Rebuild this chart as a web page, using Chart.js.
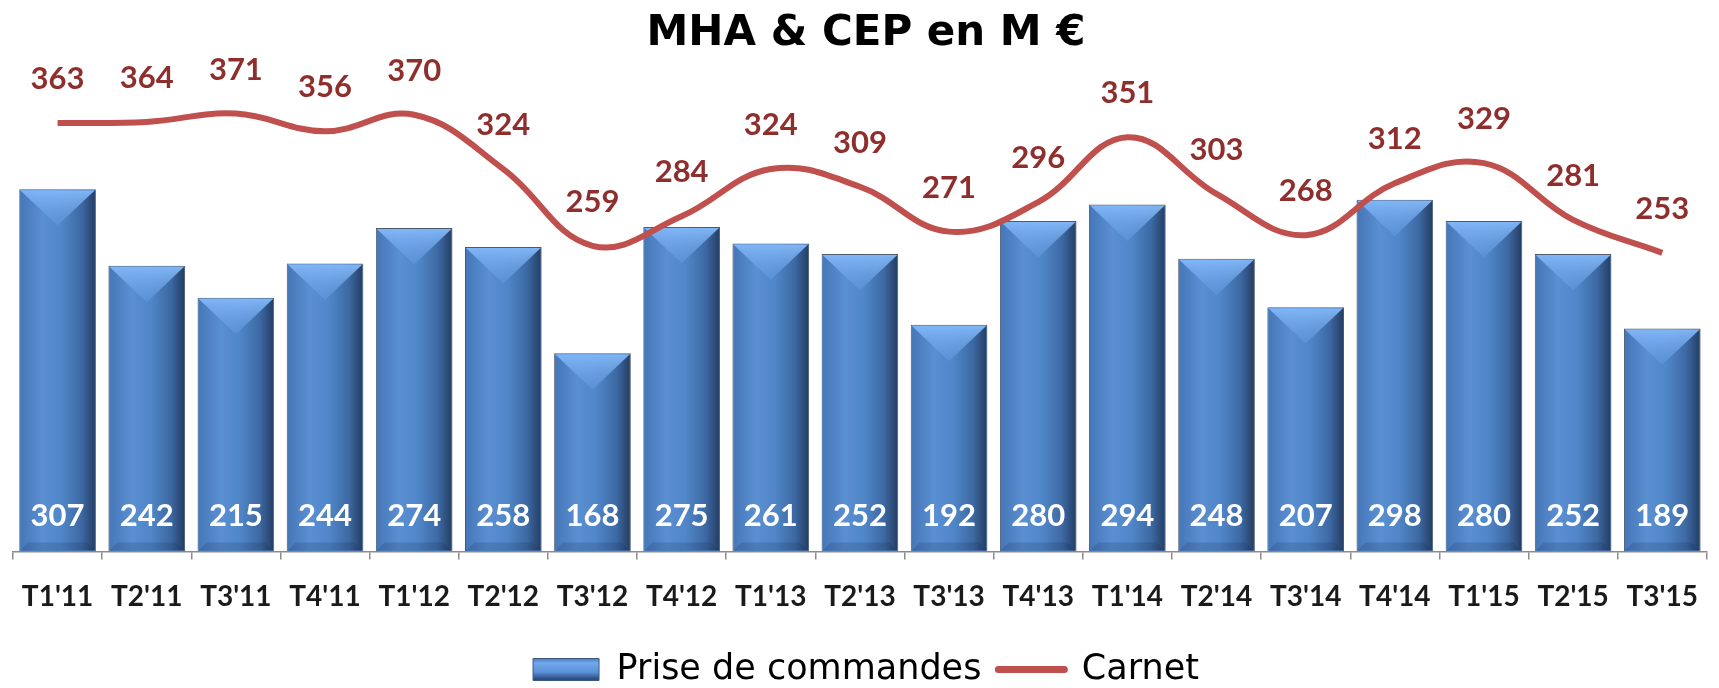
<!DOCTYPE html>
<html>
<head>
<meta charset="utf-8">
<script src="https://cdn.jsdelivr.net/npm/chart.js@4.4.0/dist/chart.umd.min.js"></script>
<style>
  body { margin: 0; background: #fff; }
  #wrap { width: 1719px; height: 688px; position: relative; }
</style>
</head>
<body>
<div id="wrap"><canvas id="mhaChart"></canvas></div>
<script>
const quarters = ["T1'11", "T2'11", "T3'11", "T4'11", "T1'12", "T2'12", "T3'12", "T4'12", "T1'13", "T2'13",
    "T3'13", "T4'13", "T1'14", "T2'14", "T3'14", "T4'14", "T1'15", "T2'15", "T3'15"];
const priseCommandes = [307, 242, 215, 244, 274, 258, 168, 275, 261, 252, 192, 280, 294, 248, 207, 298, 280, 252, 189];
const carnet = [363, 364, 371, 356, 370, 324, 259, 284, 324, 309, 271, 296, 351, 303, 268, 312, 329, 281, 253];

// bevel shading on bars + value labels
const barLook = {
    id: 'barLook',
    afterDatasetDraw(chart, args) {
        if (args.index !== 0) return;
        const ctx = chart.ctx;
        ctx.save();
        args.meta.data.forEach(bar => {
            const p = bar.getProps(['x', 'y', 'base', 'width'], true);
            const l = p.x - p.width / 2 + 1, r = p.x + p.width / 2 - 1;
            const t = p.y + 1, b = p.base - 1;
            const g = ctx.createLinearGradient(l, 0, r, 0);
            g.addColorStop(0, '#4677b8');
            g.addColorStop(0.3, '#5a8fd2');
            g.addColorStop(0.55, '#5087c9');
            g.addColorStop(0.82, '#3d69a3');
            g.addColorStop(1, '#253f66');
            ctx.fillStyle = g;
            ctx.fillRect(l, t, r - l, b - t);
            const h = (r - l) / 2;
            const g2 = ctx.createLinearGradient(0, t, 0, t + h);
            g2.addColorStop(0, '#80b6f6');
            g2.addColorStop(1, 'rgba(96,150,220,0.5)');
            ctx.fillStyle = g2;
            ctx.beginPath();
            ctx.moveTo(l, t);
            ctx.lineTo(r, t);
            ctx.lineTo(p.x, t + h * 0.95);
            ctx.closePath();
            ctx.fill();
            ctx.fillStyle = 'rgba(20,40,80,0.18)';
            ctx.beginPath();
            ctx.moveTo(l, b);
            ctx.lineTo(r, b);
            ctx.lineTo(r - 8, b - 8);
            ctx.lineTo(l + 8, b - 8);
            ctx.closePath();
            ctx.fill();
        });
        ctx.restore();
    },
    afterDatasetsDraw(chart) {
        const ctx = chart.ctx;
        ctx.save();
        ctx.textAlign = 'center';
        ctx.textBaseline = 'middle';
        ctx.font = 'bold 31px Lato';
        chart.getDatasetMeta(0).data.forEach((bar, i) => {
            ctx.fillStyle = '#ffffff';
            ctx.fillText(priseCommandes[i], bar.x, bar.base - 35);
        });
        chart.getDatasetMeta(1).data.forEach((pt, i) => {
            ctx.fillStyle = '#8f2f2d';
            ctx.fillText(carnet[i], pt.x, pt.y - 44);
        });
        ctx.restore();
    }
};

let mhaCanvas = document.getElementById("mhaChart").getContext("2d");
let mhaChart = new Chart(mhaCanvas, {
    type: "bar",
    data: {
        labels: quarters,
        datasets: [{
            type: "bar",
            label: "Prise de commandes",
            data: priseCommandes,
            backgroundColor: '#4f81bd',
            borderColor: '#4d5a6b',
            borderWidth: 1,
            categoryPercentage: 1,
            barPercentage: 0.86,
            order: 1
        }, {
            type: "line",
            label: "Carnet",
            data: carnet,
            borderColor: '#c0504d',
            backgroundColor: '#c0504d',
            borderWidth: 6,
            tension: 0.4,
            pointRadius: 0,
            fill: false,
            order: 0
        }]
    },
    options: {
        responsive: true,
        maintainAspectRatio: false,
        animation: false,
        layout: { padding: { left: 13, right: 0, top: 0, bottom: -9 } },
        scales: {
            x: {
                grid: {
                    drawOnChartArea: false,
                    color: '#8c8c8c',
                    tickLength: 8,
                    lineWidth: 1.5
                },
                border: { color: '#8c8c8c', width: 1.5 },
                ticks: {
                    color: '#1a1a1a',
                    font: { family: 'Lato', weight: 'bold', size: 28 },
                    padding: 21,
                    maxRotation: 0,
                    autoSkip: false
                }
            },
            y: {
                display: false,
                min: 0,
                max: 400
            }
        },
        plugins: {
            title: {
                display: true,
                text: "MHA & CEP en M €",
                color: '#000',
                font: { family: 'DejaVu Sans', weight: 'bold', size: 42 },
                padding: { top: 9, bottom: 20 }
            },
            legend: {
                position: 'bottom',
                labels: {
                    usePointStyle: true,
                    pointStyleWidth: 66,
                    boxHeight: 22,
                    padding: 17,
                    color: '#000',
                    font: { family: 'DejaVu Sans', size: 35 },
                    generateLabels(chart) {
                        const g = chart.ctx.createLinearGradient(0, 656, 0, 679);
                        g.addColorStop(0, '#34609c');
                        g.addColorStop(0.3, '#72a8ec');
                        g.addColorStop(0.7, '#5a90d6');
                        g.addColorStop(1, '#2b4d80');
                        return [
                            { text: 'Prise de commandes', fillStyle: g, strokeStyle: '#3b5b85', lineWidth: 1,
                              pointStyle: 'rect', datasetIndex: 0, hidden: false, fontColor: '#000' },
                            { text: 'Carnet', fillStyle: '#c0504d', strokeStyle: '#c0504d', lineWidth: 7,
                              lineCap: 'round', pointStyle: 'line', datasetIndex: 1, hidden: false, fontColor: '#000' }
                        ];
                    }
                }
            },
            tooltip: { enabled: false }
        }
    },
    plugins: [barLook]
});
</script>
</body>
</html>
